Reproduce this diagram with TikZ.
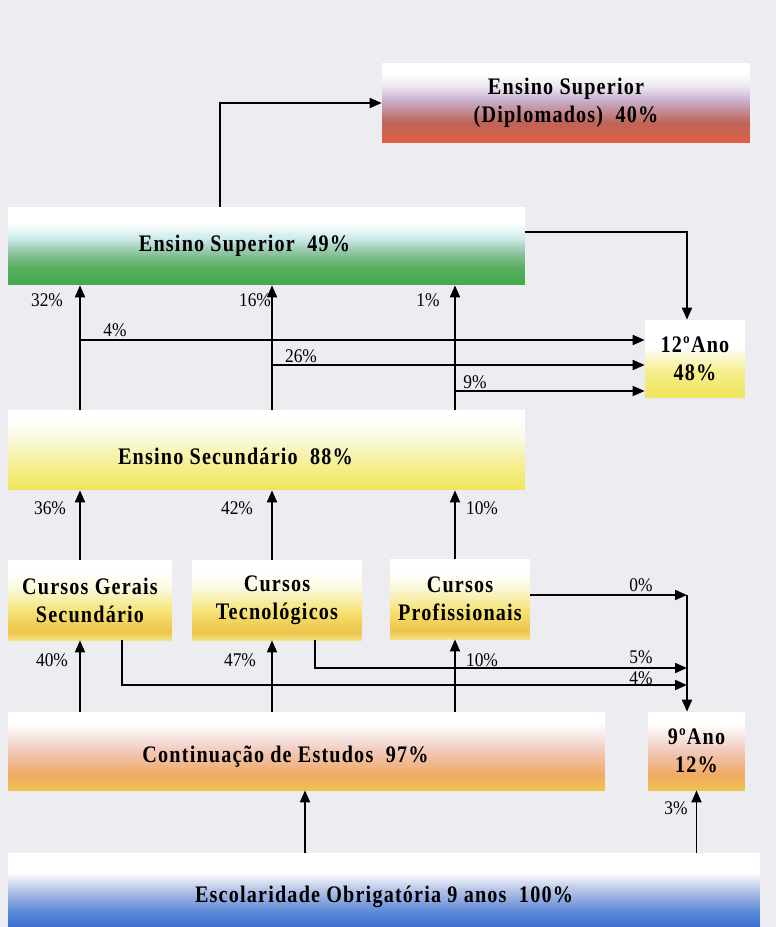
\documentclass[tikz,border=0pt]{standalone}
\usepackage{fontspec}
\setmainfont{Liberation Serif}
\newfontfamily\boxfont[LetterSpace=5, FakeStretch=0.85]{Liberation Serif}
\newfontfamily\pctfont[FakeStretch=0.9]{Liberation Serif}
\usepackage{xcolor}
\usetikzlibrary{arrows.meta, calc}

\definecolor{bgray}{RGB}{236,236,241}
% colours of the shadings
\definecolor{dipred}{RGB}{225,95,65}
\definecolor{dipbrown}{RGB}{190,100,90}
\definecolor{diplav}{RGB}{200,178,205}
\definecolor{diplight}{RGB}{236,228,240}
\definecolor{supgreen}{RGB}{65,170,75}
\definecolor{supmid}{RGB}{90,175,95}
\definecolor{supgrey}{RGB}{150,200,170}
\definecolor{supcyan}{RGB}{205,235,235}
\definecolor{yelbot}{RGB}{238,228,90}
\definecolor{yelmid}{RGB}{245,238,140}
\definecolor{yellight}{RGB}{250,250,225}
\definecolor{curpale}{RGB}{245,225,130}
\definecolor{curgold}{RGB}{238,195,75}
\definecolor{curyel}{RGB}{245,225,110}
\definecolor{contyel}{RGB}{240,195,80}
\definecolor{contor}{RGB}{240,170,100}
\definecolor{contpeach}{RGB}{242,200,185}
\definecolor{contpink}{RGB}{246,226,222}
\definecolor{escblue}{RGB}{60,110,210}
\definecolor{escmid}{RGB}{90,135,215}
\definecolor{esclight}{RGB}{180,195,230}

\pgfdeclareverticalshading{shdiplo}{100bp}{color(0bp)=(dipred); color(25bp)=(dipred); color(38bp)=(dipbrown); color(52bp)=(diplav); color(60bp)=(diplight); color(68bp)=(white); color(100bp)=(white)}
\pgfdeclareverticalshading{shsup}{100bp}{color(0bp)=(supgreen); color(25bp)=(supgreen); color(37bp)=(supmid); color(47bp)=(supgrey); color(55bp)=(supcyan); color(65bp)=(white); color(100bp)=(white)}
\pgfdeclareverticalshading{shsec}{100bp}{color(0bp)=(yelbot); color(25bp)=(yelbot); color(40bp)=(yelmid); color(58bp)=(yellight); color(70bp)=(white); color(100bp)=(white)}
\pgfdeclareverticalshading{shano}{100bp}{color(0bp)=(yelbot); color(25bp)=(yelbot); color(42bp)=(yelmid); color(58bp)=(white); color(100bp)=(white)}
\pgfdeclareverticalshading{shcur}{100bp}{color(0bp)=(curpale); color(25bp)=(curpale); color(30bp)=(curgold); color(42bp)=(curyel); color(58bp)=(yellight); color(68bp)=(white); color(100bp)=(white)}
\pgfdeclareverticalshading{shcont}{100bp}{color(0bp)=(contyel); color(25bp)=(contyel); color(35bp)=(contor); color(50bp)=(contpeach); color(58bp)=(contpink); color(68bp)=(white); color(100bp)=(white)}
\pgfdeclareverticalshading{shesc}{100bp}{color(0bp)=(escblue); color(25bp)=(escblue); color(35bp)=(escmid); color(50bp)=(esclight); color(62bp)=(white); color(100bp)=(white)}

% moves a box text left and down
\newcommand{\boxtext}[3]{\raisebox{-#2}[\height][\depth]{#1}\hspace*{#3}}

\begin{document}
\begin{tikzpicture}[x=0.02cm, y=-0.02cm,
    box/.style={inner sep=0pt, align=center, font=\boxfont\bfseries\fontsize{13.5}{16}\selectfont},
    pct/.style={inner sep=0pt, font=\pctfont\fontsize{11}{12}\selectfont},
    arr/.style={-{Triangle[length=2.4mm,width=2mm]}, line width=1pt}]

  \fill[bgray] (0,0) rectangle (776,927);
  \useasboundingbox (0,0) rectangle (776,927);

  % boxes
  \node[box, shading=shdiplo, minimum width=7.36cm, minimum height=1.6cm] (diplo) at (566,103) {Ensino Superior\\(Diplomados)\ \ 40\%};
  \node[box, shading=shsup, minimum width=10.34cm, minimum height=1.56cm] (sup) at (266.5,246) {\boxtext{Ensino Superior\ \ 49\%}{0cm}{0.88cm}};
  \node[box, shading=shano, minimum width=2cm, minimum height=1.56cm] (ano12) at (695,359) {12ºAno\\48\%};
  \node[box, shading=shsec, minimum width=10.34cm, minimum height=1.6cm] (sec) at (266.5,450) {\boxtext{Ensino Secundário\ \ 88\%}{0.12cm}{1.24cm}};
  \node[box, shading=shcur, minimum width=3.28cm, minimum height=1.6cm] (gerais) at (90,600) {Cursos Gerais\\Secundário};
  \node[box, shading=shcur, minimum width=3.4cm, minimum height=1.6cm] (tecno) at (277,600) {Cursos\\Tecnológicos};
  \node[box, shading=shcur, minimum width=2.8cm, minimum height=1.6cm] (prof) at (460,599) {Cursos\\Profissionais};
  \node[box, shading=shcont, minimum width=11.94cm, minimum height=1.56cm] (cont) at (306.5,751) {\boxtext{Continuação de Estudos\ \ 97\%}{0.12cm}{0.84cm}};
  \node[box, shading=shcont, minimum width=1.94cm, minimum height=1.56cm] (ano9) at (696.5,751) {9ºAno\\12\%};
  \node[box, shading=shesc, minimum width=15.04cm, minimum height=1.48cm] (esc) at (384,890) {\boxtext{Escolaridade Obrigatória 9 anos\ \ 100\%}{0.14cm}{0cm}};

  % columns of the arrows
  \coordinate (c0) at (220,0);
  \coordinate (c1) at (80,0);
  \coordinate (c2) at (272,0);
  \coordinate (c3) at (455,0);
  \coordinate (c5) at (305,0);
  \coordinate (c9) at (687,0);

  \draw[arr] (sup.north -| c0) |- (diplo.west);
  \coordinate (s12) at (525,232);
  \draw[arr] (s12) -| (ano12.north -| c9);

  \foreach \c in {c1,c2,c3}
    \draw[arr] (sec.north -| \c) -- (sup.south -| \c);
  \coordinate (h1) at (80,340);
  \coordinate (h2) at (272,365);
  \coordinate (h3) at (455,391);
  \foreach \h in {h1,h2,h3}
    \draw[arr] (\h) -- (\h -| ano12.west);

  \draw[arr] (gerais.north -| c1) -- (sec.south -| c1);
  \draw[arr] (tecno.north -| c2) -- (sec.south -| c2);
  \draw[arr] (prof.north -| c3) -- (sec.south -| c3);

  \draw[arr] (cont.north -| c1) -- (gerais.south -| c1);
  \draw[arr] (cont.north -| c2) -- (tecno.south -| c2);
  \draw[arr] (cont.north -| c3) -- (prof.south -| c3);

  % to the 9th year
  \coordinate (p0) at (530,595);
  \coordinate (t5) at (315,668);
  \coordinate (g4) at (122,685);
  \draw[arr] (p0) -- (p0 -| c9);
  \draw[arr] (p0 -| c9) -- (ano9.north -| c9);
  \draw[arr] (tecno.south -| t5) |- (c9 |- t5);
  \draw[arr] (gerais.south -| g4) |- (c9 |- g4);

  \draw[arr] (esc.north -| c5) -- (cont.south -| c5);
  \draw[arr] (esc.north -| ano9) -- (ano9.south);

  % percentages
  \node[pct] (l32) at (47,300) {32\%};
  \node[pct] (l16) at (255,300) {16\%};
  \node[pct] (l1) at (428,300) {1\%};
  \node[pct] (l4a) at (115,330) {4\%};
  \node[pct] (l26) at (301,356) {26\%};
  \node[pct] (l9) at (475,382) {9\%};
  \node[pct] (l36) at (50,508) {36\%};
  \node[pct] (l42) at (237,508) {42\%};
  \node[pct] (l10a) at (482,508) {10\%};
  \node[pct] (l0) at (641,585) {0\%};
  \node[pct] (l40) at (52,660) {40\%};
  \node[pct] (l47) at (240,660) {47\%};
  \node[pct] (l10b) at (482,660) {10\%};
  \node[pct] (l5) at (641,657) {5\%};
  \node[pct] (l4b) at (641,678) {4\%};
  \node[pct] (l3) at (676,808) {3\%};
\end{tikzpicture}
\end{document}
